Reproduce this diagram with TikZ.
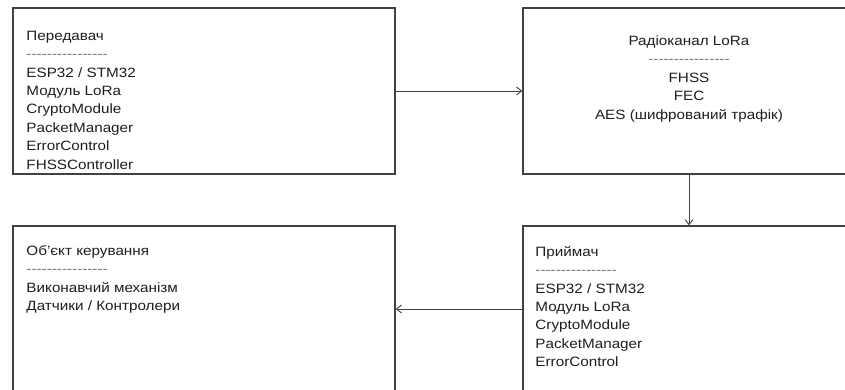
\documentclass[tikz,border=0pt]{standalone}
\usepackage{fontspec}
\setmainfont[FakeStretch=1.13]{Liberation Sans}
\usetikzlibrary{arrows.meta,calc,positioning}
\definecolor{framecol}{RGB}{65,65,65}
\definecolor{inkcol}{RGB}{30,30,30}
\definecolor{rulecol}{RGB}{120,120,120}
\newcommand{\dashrow}{\textcolor{rulecol}{\foreach \k in {1,...,16}{\mbox{-}}}}

\begin{document}
\begin{tikzpicture}[x=1pt,y=-1pt,>={Straight Barb[length=5pt,width=8pt]},
    font=\fontsize{13.5}{18.4}\selectfont,text=inkcol,
    block/.style={draw=framecol,line width=1.5pt,inner sep=0pt,minimum height=166pt},
    wideblock/.style={block,minimum width=382pt},
    narrowblock/.style={block,minimum width=332pt},
    listing/.style={anchor=base west,align=left,inner sep=0pt},
    link/.style={->,draw=framecol,line width=0.9pt}]
  \useasboundingbox (0,0) rectangle (845,389);
  \clip (0,0) rectangle (845,389);
  \fill[white] (0,0) rectangle (845,389);

  % ---------------- upper row: transmitter and radio channel ------------
  % (a multi-line node sits on the baseline of its LAST line)
  \node[wideblock] (tx) at (204,91) {};
  \node[listing] (txtext) at ($(tx.north west)+(14,161.8)$)
    {Передавач\\ \dashrow\\ ESP32 / STM32\\ Модуль LoRa\\ CryptoModule\\
     PacketManager\\ ErrorControl\\ FHSSController};

  \node[narrowblock] (chan) at (689,91) {};
  \node[anchor=base,align=center,inner sep=0pt] (chantext) at (689,119)
    {Радіоканал LoRa\\ \dashrow\\ FHSS\\ FEC\\ AES (шифрований трафік)};

  % ---------------- lower row: controlled object and receiver ----------
  \node[wideblock] (obj) at (204,309) {};
  \node[listing] (objtext) at ($(obj.north west)+(14,85.5)$)
    {Об’єкт керування\\ \dashrow\\ Виконавчий механізм\\ Датчики / Контролери};

  \node[narrowblock] (rx) at (689,309) {};
  \node[listing] (rxtext) at ($(rx.north west)+(13,141.5)$)
    {Приймач\\ \dashrow\\ ESP32 / STM32\\ Модуль LoRa\\ CryptoModule\\
     PacketManager\\ ErrorControl};

  % ---------------- data path ------------------------------------------
  \draw[link] (tx) -- (chan);
  \draw[link] (chan) -- (rx);
  \draw[link] (rx) -- (obj);
\end{tikzpicture}
\end{document}
